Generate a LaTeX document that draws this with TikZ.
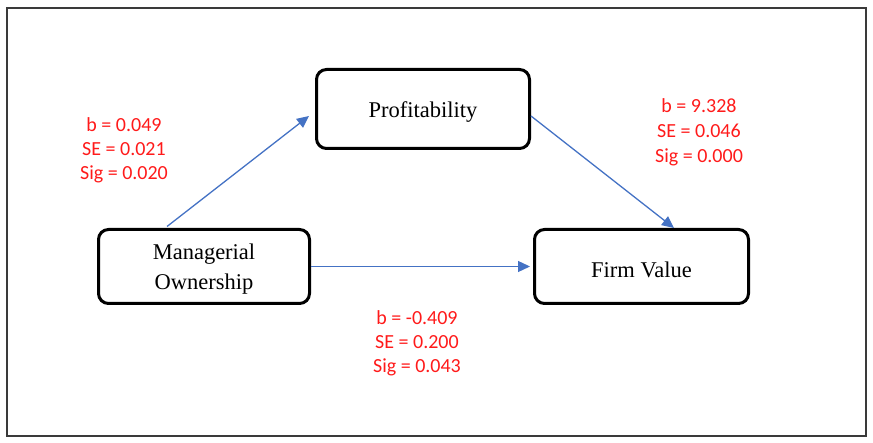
\documentclass[tikz,border=0pt]{standalone}
\usepackage{fontspec}
\setmainfont{Liberation Serif}
\newfontfamily\calfont{Carlito}
\usetikzlibrary{arrows.meta}
\definecolor{arrowblue}{HTML}{4472C4}
\definecolor{statred}{HTML}{FF1A1A}
\definecolor{framegray}{HTML}{3A3A3A}
\begin{document}
\begin{tikzpicture}[x=1pt,y=-1pt,
  box/.style={draw=black,line width=3pt,rounded corners=10pt,inner sep=0pt},
  boxtext/.style={font=\fontsize{22.5}{30}\selectfont,align=center,text=black,inner sep=0pt,yshift=-3pt},
  conn/.style={draw=arrowblue,line width=1.3pt,-{Triangle[length=12pt,width=11pt]}},
  stat/.style={text=statred,font=\calfont\fontsize{20}{24}\selectfont,align=center,inner sep=0pt}]
\useasboundingbox (0,0) rectangle (873,443);
\draw[framegray,line width=2pt] (7,8) rectangle (866,436);
\node[box,minimum width=211pt,minimum height=74pt,
  label={[boxtext]center:Managerial\\Ownership}] (mo) at (204,266.5) {};
\node[box,minimum width=213pt,minimum height=79pt,
  label={[boxtext]center:Profitability}] (prof) at (423,109) {};
\node[box,minimum width=214pt,minimum height=74pt,
  label={[boxtext]center:Firm Value}] (fv) at (641.5,266.5) {};
\draw[conn] ([xshift=-37pt,yshift=1.5pt]mo.north) -- ([xshift=-6pt,yshift=-7pt]prof.west);
\draw[conn] ([xshift=0pt,yshift=-7pt]prof.east) -- ([xshift=32.5pt,yshift=0pt]fv.north);
\draw[conn] (mo.east) -- ([xshift=-3pt]fv.west);
\node[stat] (s1) at (124,150) {b = 0.049\\SE = 0.021\\Sig = 0.020};
\node[stat,font=\calfont\fontsize{20}{25}\selectfont] (s2) at (699,132) {b = 9.328\\SE = 0.046\\Sig = 0.000};
\node[stat] (s3) at (417,343) {b = -0.409\\SE = 0.200\\Sig = 0.043};
\end{tikzpicture}
\end{document}
